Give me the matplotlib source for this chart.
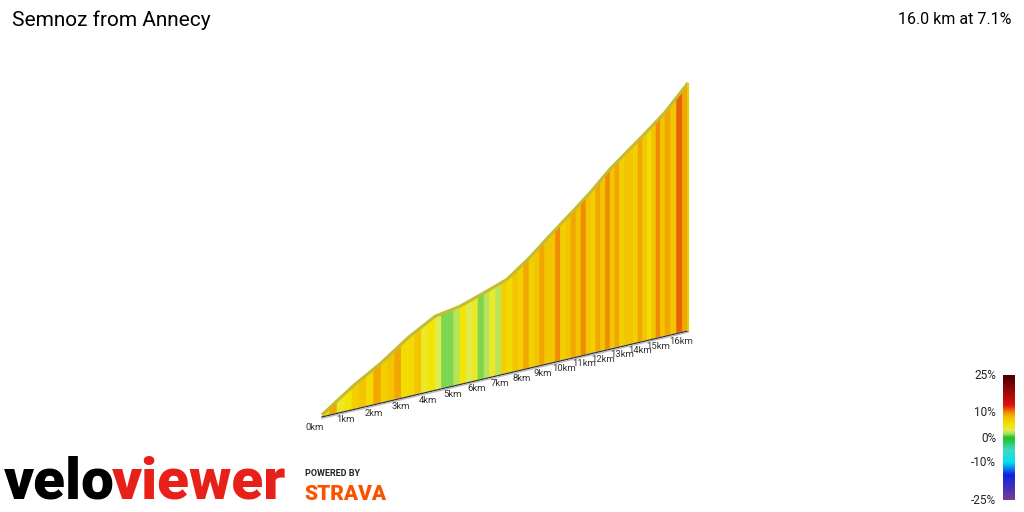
import numpy as np
import matplotlib.pyplot as plt
from matplotlib.colors import LinearSegmentedColormap, Normalize
from matplotlib.patches import Polygon

# ------------------------------------------------------------
# Data
# ------------------------------------------------------------
KM = np.arange(0, 17)
# elevation gain (m) at each km
ELEV_GAIN = [0, 96, 174, 261, 330, 349, 385, 422, 495, 578, 656, 734, 817, 885, 950, 1018, 1128]
# screen x of each km mark along the (perspective) baseline
KM_X = [322, 352, 381, 408, 435, 460, 484, 507, 529, 550, 571, 591, 610, 629, 647, 665, 688]
# gradient (%) for each 250 m stripe
GRADES = [6, 9, 4, 5, 7, 8, 6, 9, 7, 8, 9, 6, 6, 8, 4, 5,
          3, 1, 1, 2, 5, 3, 4, 1, 2, 4, 2, 7, 6, 8, 7, 9,
          7, 8, 9, 8, 8, 10, 7, 8, 9, 8, 10, 8, 7, 9, 8, 10,
          8, 9, 7, 8, 8, 7, 9, 8, 6, 8, 10, 8, 9, 8, 11, 9]
TITLE = "Semnoz from Annecy"
SUMMARY = "16.0 km at 7.1%"

cmap = LinearSegmentedColormap.from_list("grade", [
    (0.0, "#7a3c96"), (0.2, "#1020e0"), (0.3, "#00e0f0"), (0.4, "#40d8c8"),
    (0.5, "#20c020"), (0.53, "#a0e060"), (0.56, "#e0ec50"), (0.6, "#f4e400"),
    (0.66, "#f2c400"), (0.7, "#f09000"), (0.76, "#e01010"), (1.0, "#4a0000")])
norm = Normalize(-25, 25)

BASE_Y0, BASE_Y1 = 416, 330
PX_PER_M = 0.218

def base_y(x):
    return BASE_Y0 + (x - KM_X[0]) * (BASE_Y1 - BASE_Y0) / (KM_X[-1] - KM_X[0])

fig = plt.figure(figsize=(10.24, 5.12), dpi=100)
ax = fig.add_axes([0, 0, 1, 1])
ax.set_xlim(0, 1024)
ax.set_ylim(512, 0)
ax.axis("off")

# stripes
steps = np.arange(0, 16.001, 0.25)
for i, g in enumerate(GRADES):
    d0, d1 = steps[i], steps[i + 1]
    x0, x1 = np.interp([d0, d1], KM, KM_X)
    e0, e1 = np.interp([d0, d1], KM, ELEV_GAIN)
    b0, b1 = base_y(x0), base_y(x1)
    poly = Polygon([(x0, b0), (x1, b1), (x1, b1 - e1 * PX_PER_M), (x0, b0 - e0 * PX_PER_M)],
                   closed=True, facecolor=cmap(norm(g)), edgecolor=cmap(norm(g)), lw=0.4)
    ax.add_patch(poly)

# top edge and baseline
dd = np.linspace(0, 16, 200)
xx = np.interp(dd, KM, KM_X)
ee = np.interp(dd, KM, ELEV_GAIN)
ax.plot(xx, base_y(xx) - ee * PX_PER_M - 1.2, color="#c4bc30", lw=2.2, solid_capstyle="butt")
ax.plot(xx, base_y(xx) + 1, color="#333333", lw=1.0)
ax.plot(xx, base_y(xx) + 2.3, color="#bbbbbb", lw=1.0)
ax.plot([KM_X[-1], KM_X[-1]], [base_y(KM_X[-1]), base_y(KM_X[-1]) - ELEV_GAIN[-1] * PX_PER_M],
        color="#e0d000", lw=1.5)

for k, x in zip(KM, KM_X):
    ax.text(x - 7, base_y(x) + 11, f"{k}km", fontsize=6.8, color="#333333",
            ha="center", va="center", family="Roboto")

# title
ax.text(12, 20, TITLE, fontsize=15, ha="left", va="center", family="Roboto")
ax.text(1012, 20, SUMMARY, fontsize=11.5, ha="right", va="center", family="Roboto")

# colour bar
cax = fig.add_axes([1003 / 1024, 1 - 500 / 512, 12 / 1024, 125 / 512])
grad = np.linspace(-25, 25, 256).reshape(-1, 1)
cax.imshow(grad, cmap=cmap, norm=norm, aspect="auto", origin="lower", extent=[0, 1, -25, 25])
cax.set_xticks([])
cax.set_yticks([])
for s in cax.spines.values():
    s.set_visible(False)
for val, lab in [(25, "25%"), (10, "10%"), (0, "0%"), (-10, "-10%"), (-25, "-25%")]:
    y = 438 - val * 2.5
    ax.text(996, y, lab, fontsize=8.5, ha="right", va="center", color="#222222", family="Roboto")

# logos
velo = ax.text(4, 483, "velo", fontsize=42, fontweight="black", color="black", ha="left",
               va="center", family="Roboto")
fig.canvas.draw()
bb = velo.get_window_extent().transformed(ax.transData.inverted())
ax.text(bb.x1 - 3, 483, "viewer", fontsize=42, fontweight="black", color="#e8201a", ha="left",
        va="center", family="Roboto")
ax.text(305, 473, "POWERED BY", fontsize=6.5, fontweight="bold", color="#222222", ha="left",
        va="center", family="Roboto")
ax.text(304, 494, "STRAVA", fontsize=15, fontweight="black", color="#fc5200", ha="left",
        va="center", family="Roboto")

fig.savefig("out.png", dpi=100)
